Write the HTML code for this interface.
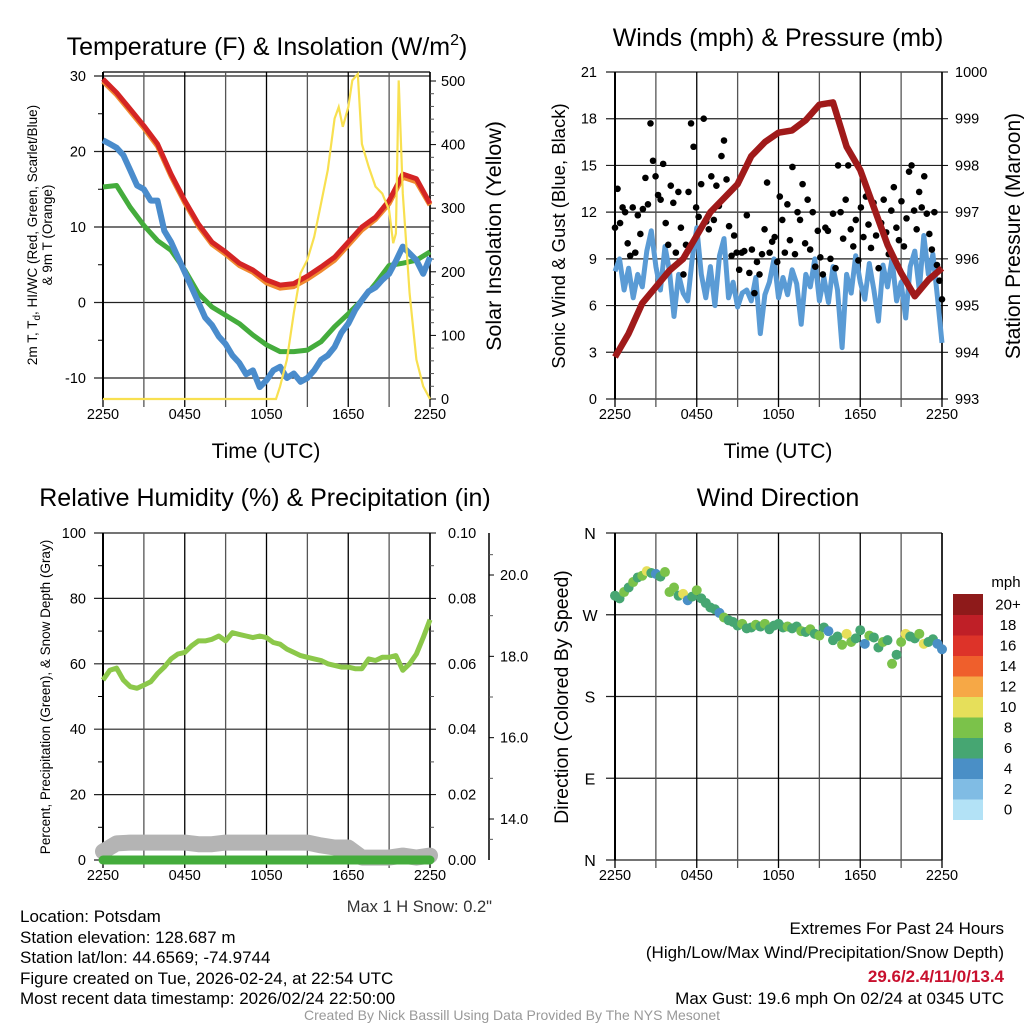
<!DOCTYPE html>
<html><head><meta charset="utf-8"><style>
body{margin:0;background:#fff;}
svg{display:block;font-family:"Liberation Sans",sans-serif;}
</style></head><body>
<svg id="fig" width="1024" height="1024" viewBox="0 0 1024 1024">
<rect width="1024" height="1024" fill="#fff"/>
<text x="267" y="55" font-size="25" text-anchor="middle">Temperature (F) &amp; Insolation (W/m<tspan dy="-10" font-size="16">2</tspan><tspan dy="10">)</tspan></text>
<text x="778" y="46" font-size="25" text-anchor="middle">Winds (mph) &amp; Pressure (mb)</text>
<text x="265" y="506" font-size="25" text-anchor="middle">Relative Humidity (%) &amp; Precipitation (in)</text>
<text x="778" y="506" font-size="25" text-anchor="middle">Wind Direction</text>
<text x="266" y="458" font-size="21" text-anchor="middle">Time (UTC)</text>
<text x="778" y="458" font-size="21" text-anchor="middle">Time (UTC)</text>
<text transform="translate(37,235) rotate(-90)" font-size="13.5" text-anchor="middle">2m T, T<tspan dy="3" font-size="10">d</tspan><tspan dy="-3">, HI/WC (Red, Green, Scarlet/Blue)</tspan></text>
<text transform="translate(52,235) rotate(-90)" font-size="13.5" text-anchor="middle">&amp; 9m T (Orange)</text>
<text transform="translate(501,236) rotate(-90)" font-size="21.5" text-anchor="middle">Solar Insolation (Yellow)</text>
<text transform="translate(565,236) rotate(-90)" font-size="18.5" text-anchor="middle">Sonic Wind &amp; Gust (Blue, Black)</text>
<text transform="translate(1020,236) rotate(-90)" font-size="21" text-anchor="middle">Station Pressure (Maroon)</text>
<text transform="translate(50,697) rotate(-90)" font-size="13.5" text-anchor="middle">Percent, Precipitation (Green), &amp; Snow Depth (Gray)</text>
<text transform="translate(568,697) rotate(-90)" font-size="19.5" text-anchor="middle">Direction (Colored By Speed)</text>
<text x="492" y="912" font-size="16.5" text-anchor="end" fill="#333">Max 1 H Snow: 0.2"</text>
<g font-size="17">
<text x="20" y="922">Location: Potsdam</text>
<text x="20" y="943">Station elevation: 128.687 m</text>
<text x="20" y="963">Station lat/lon: 44.6569; -74.9744</text>
<text x="20" y="984">Figure created on Tue, 2026-02-24, at 22:54 UTC</text>
<text x="20" y="1004">Most recent data timestamp: 2026/02/24 22:50:00</text>
</g>
<g font-size="17" text-anchor="end">
<text x="1004" y="934">Extremes For Past 24 Hours</text>
<text x="1004" y="958">(High/Low/Max Wind/Precipitation/Snow Depth)</text>
<text x="1004" y="982" fill="#c8102e" font-weight="bold">29.6/2.4/11/0/13.4</text>
<text x="1004" y="1004">Max Gust: 19.6 mph On 02/24 at 0345 UTC</text>
</g>
<text x="512" y="1020" font-size="14" text-anchor="middle" fill="#999">Created By Nick Bassill Using Data Provided By The NYS Mesonet</text>
</svg>
<script>
// ---- data ----
const timeLabels = ["2250","0450","1050","1650","2250"];
const tempRed = [29.6,27.8,25.6,23.4,21,17,13.5,10.4,8,6.7,5.2,4.3,3,2.3,2.5,3.5,4.7,6,8,10,11.3,13.5,17,16.4,13.1];
const tempOrange = [29.3,27.5,25.3,23.1,20.7,16.7,13.2,10.1,7.7,6.4,4.9,4.0,2.6,1.9,2.1,3.1,4.3,5.6,7.6,9.6,11.0,13.1,16.6,16.0,12.9];
const dewGreen = [15.3,15.5,12.6,10.2,8.2,6.9,4.3,1.2,-0.6,-1.7,-2.8,-4.3,-5.6,-6.5,-6.5,-6.3,-5.2,-3.2,-1.5,0.3,2.5,4.9,5.2,5.6,6.7];
const chillBlue = [21.5,21,20.5,19.5,17.5,15.5,15,13.5,13.5,9.5,8,6,4,2,0,-2,-3,-4.5,-5.5,-7,-8,-9.5,-9,-11.2,-10.3,-9,-8.5,-10,-9.4,-10.5,-10,-9,-7.6,-7,-5.9,-4,-2.8,-1,0.3,1.5,2,3,3.8,5.5,7.4,6.5,5.6,3.8,6];
const solarHours = [0,12.7,13,13.5,14,14.5,15,15.5,16,16.5,17,17.3,17.6,18,18.3,18.7,19,19.5,20,20.5,21,21.3,21.5,21.7,22,22.5,23,23.5,24];
const solarValues = [0,0,20,62,135,198,219,255,307,360,441,459,428,459,501,511,401,365,334,323,297,245,260,501,323,166,62,20,0];
const windBlue = [8.2,9.0,7.0,8.4,6.5,8.0,7.2,9.5,10.8,8.5,7.0,9.8,8.2,5.3,8.0,6.8,6.3,9.0,11.0,8.0,6.5,8.5,6.0,9.2,10.3,6.5,7.5,5.9,6.8,7.0,6.3,7.8,4.2,6.7,7.5,9.0,6.5,7.8,6.7,8.3,7.4,4.8,8.0,7.2,9.0,6.3,7.8,6.2,8.5,7.0,3.3,8.0,6.8,9.2,7.5,6.4,8.7,7.0,5.0,8.6,7.2,9.0,6.3,7.5,5.2,8.5,9.5,7.0,10.5,8.0,9.3,6.5,3.6];
const gustBlack = [11,13.5,11.3,12.3,12,10,9.2,12.3,9.4,11.8,10.6,12.2,14.2,12.5,17.7,15.3,14.3,13.1,12.8,15.1,11.3,9.9,13.7,12.6,9.4,13.3,11,8,9.9,13.3,17.7,16.2,12.3,11.7,13.8,18,11.4,10.9,14.3,11.5,13.7,12.4,15.6,16.6,14.1,11.1,9.2,10.5,9.4,8.3,9.4,9.5,11.8,8.1,9.6,6.8,8.8,8,9.3,10.9,13.9,9.4,10.1,10.4,8.8,13.0,11.5,9.4,12.5,10.2,14.9,9.3,12.0,11.5,13.8,10.0,12.8,9.6,12.0,8.5,10.8,9.1,8.0,11.0,10.8,9.0,11.9,8.4,15,12.0,10.3,12.8,15,10.9,9.8,11.5,8.9,12.3,10.4,13.0,11.2,9.7,12.6,10.5,8.4,11.3,12.8,10.7,9.3,12.1,13.6,11.0,10.2,12.7,9.8,11.6,14.6,15.0,12.1,10.9,13.3,12.3,14.3,11.9,10.6,9.6,12.0,8.6,7.6,6.4];
const pressure = [993.9,994.4,995.05,995.4,995.75,996.0,996.5,997.0,997.3,997.6,998.2,998.5,998.7,998.75,998.97,999.3,999.35,998.4,997.9,997.1,996.3,995.7,995.2,995.55,995.8];
const rhValues = [55,58,58.7,55,53,52.5,53.5,54.5,57,59,61.5,63,63.5,65.5,67,67,67.5,68.5,67,69.5,69,68.5,68,68.5,68,66.5,66,64.5,63.5,62.5,62,61.5,61,60,59.5,59,59,58.5,58.5,61.5,61,62,62,62.5,58,60,63,68,73.5];
const snowDepth = [13.2,13.4,13.42,13.42,13.42,13.42,13.42,13.38,13.38,13.42,13.42,13.42,13.42,13.42,13.42,13.42,13.35,13.3,13.3,13.05,13.05,13.05,13.1,13.05,13.1];
const precipValues = [0,0,0,0,0,0,0,0,0,0,0,0,0,0,0,0,0,0,0,0,0,0,0,0,0];
const dirValues = [291,288,295,300,306,311,313,318,316,315,312,317,295,300,291,293,286,290,297,288,283,278,276,272,267,264,262,258,260,255,256,259,257,260,254,258,260,256,257,255,257,252,251,254,249,247,256,252,242,246,237,249,240,244,253,238,247,245,234,240,242,216,226,240,249,246,244,249,238,240,243,238,232];
const dirSpeeds = [7,6,8,7,8,6,8,10,7,4,7,8,9,8,6,10,4,7,8,6,7,6,7,4,8,6,7,7,8,6,7,8,6,8,6,7,6,7,8,7,6,8,7,8,6,8,6,4,7,6,8,10,8,7,6,4,8,7,6,8,7,8,6,9,10,7,6,8,10,7,6,4,4];
const speedLabels = ["0","2","4","6","8","10","12","14","16","18","20+"];
const speedColors = ["#b3e2f6","#80bce4","#4a8fc6","#46a672","#7bc24a","#e6df5a","#f6a846","#ef5f2c","#dd3329","#bf1f27","#8e1a1a"];

// ---- helpers ----
const NS = "http://www.w3.org/2000/svg";
const svg = document.getElementById("fig");
function mk(parent, tag, attrs, name) {
  const el = document.createElementNS(NS, tag);
  for (const k in attrs) el.setAttribute(k, attrs[k]);
  
  
  parent.appendChild(el);
  return el;
}
function txt(parent, x, y, s, anchor, size, name) {
  const t = mk(parent, "text", {x:x, y:y, "text-anchor":anchor, "font-size":size}, name);
  t.textContent = s;
  return t;
}
function scale(d0, d1, r0, r1) { return v => r0 + (v - d0) / (d1 - d0) * (r1 - r0); }
function pathFrom(xs, ys) { return xs.map((x,i)=> (i?"L":"M") + x.toFixed(1) + "," + ys[i].toFixed(1)).join(""); }
function evenHours(n) { const a=[]; for (let i=0;i<n;i++) a.push(i*24/(n-1)); return a; }

function frame(g, L, R, T, B, name) {
  for (let i = 0; i <= 8; i++) {
    const x = L + i*(R-L)/8;
    mk(g, "line", {x1:x, x2:x, y1:T, y2:B+8, stroke:(i%2?"#555":"#000"), "stroke-width":1.3}, name + "-vgrid");
  }
  timeLabels.forEach((s,i)=> txt(g, L + i*(R-L)/4, B+20, s, "middle", 14.5, name + "-x-tick-label"));
  mk(g, "line", {x1:L, x2:L, y1:T, y2:B, stroke:"#000", "stroke-width":2}, name + "-left-axis");
  mk(g, "line", {x1:R, x2:R, y1:T, y2:B, stroke:"#000", "stroke-width":1.5}, name + "-right-axis");
}
function hgrid(g, L, R, y, name) {
  mk(g, "line", {x1:L-9, x2:R, y1:y, y2:y, stroke:"#222", "stroke-width":1.2}, name);
}

// ---- Panel 1: temperature ----
(function(){
  const g = mk(svg, "g", {}, "temperature-chart");
  const L=103, R=430, T=72, B=399;
  const x = scale(0,24,L,R), y = scale(-10,30,378,76), ys = scale(0,500,399,81);
  [-10,0,10,20,30].forEach(v=>{ hgrid(g,L,R,y(v),"temp-gridline"); txt(g, 86, y(v)+5, String(v), "end", 14.5, "temp-y-tick-label"); });
  [-5,5,15,25].forEach(v=> mk(g,"line",{x1:L-5,x2:L,y1:y(v),y2:y(v),stroke:"#000"},"temp-minor-tick"));
  mk(g,"line",{x1:L,x2:R,y1:T,y2:T,stroke:"#000","stroke-width":1.2},"temp-top-border");
  frame(g,L,R,T,B,"temp");
  [0,100,200,300,400,500].forEach(v=>{ mk(g,"line",{x1:R,x2:R+6,y1:ys(v),y2:ys(v),stroke:"#000"},"solar-tick"); txt(g, R+11, ys(v)+5, String(v), "start", 14.5, "solar-y-tick-label"); });
  for (let v=20; v<=500; v+=20) if (v%100) mk(g,"line",{x1:R,x2:R+4,y1:ys(v),y2:ys(v),stroke:"#555"},"solar-minor-tick");
  const hx = evenHours(tempRed.length).map(x);
  mk(g,"path",{d:pathFrom(evenHours(tempOrange.length).map(x), tempOrange.map(y)), fill:"none", stroke:"#f08a30","stroke-width":5,"stroke-linejoin":"round"},"orange-9m-temp-line");
  mk(g,"path",{d:pathFrom(hx, tempRed.map(y)), fill:"none", stroke:"#d42424","stroke-width":5,"stroke-linejoin":"round"},"red-temp-line");
  mk(g,"path",{d:pathFrom(evenHours(dewGreen.length).map(x), dewGreen.map(y)), fill:"none", stroke:"#44ac3c","stroke-width":5,"stroke-linejoin":"round"},"green-dewpoint-line");
  mk(g,"path",{d:pathFrom(evenHours(chillBlue.length).map(x), chillBlue.map(y)), fill:"none", stroke:"#4a8ccc","stroke-width":6,"stroke-linejoin":"round"},"blue-windchill-line");
  mk(g,"path",{d:pathFrom(solarHours.map(x), solarValues.map(ys)), fill:"none", stroke:"#f8e050","stroke-width":2.2},"yellow-solar-line");
})();

// ---- Panel 2: wind & pressure ----
(function(){
  const g = mk(svg, "g", {}, "wind-chart");
  const L=615, R=942, T=72, B=399;
  const x = scale(0,24,L,R), y = scale(0,21,399,72), yp = scale(993,1000,399,72);
  [0,3,6,9,12,15,18,21].forEach(v=>{ hgrid(g,L,R,y(v),"wind-gridline"); txt(g, 597, y(v)+5, String(v), "end", 14.5, "wind-y-tick-label"); });
  frame(g,L,R,T,B,"wind");
  for (let v=993; v<=1000; v++){ mk(g,"line",{x1:R,x2:R+6,y1:yp(v),y2:yp(v),stroke:"#000"},"pressure-tick"); txt(g, R+13, yp(v)+5, String(v), "start", 14.5, "pressure-y-tick-label"); }
  mk(g,"path",{d:pathFrom(evenHours(windBlue.length).map(x), windBlue.map(y)), fill:"none", stroke:"#5a9bd5","stroke-width":5,"stroke-linejoin":"round"},"blue-sonic-wind-line");
  const gh = evenHours(gustBlack.length);
  gustBlack.forEach((v,i)=> mk(g,"circle",{cx:x(gh[i]), cy:y(v), r:3.3, fill:"#000"},"gust-point"));
  mk(g,"path",{d:pathFrom(evenHours(pressure.length).map(x), pressure.map(yp)), fill:"none", stroke:"#a01a1a","stroke-width":6.5,"stroke-linejoin":"round"},"maroon-pressure-line");
})();

// ---- Panel 3: RH / precip / snow ----
(function(){
  const g = mk(svg, "g", {}, "humidity-chart");
  const L=103, R=430, T=533, B=860;
  const x = scale(0,24,L,R), y = scale(0,100,860,533), ysn = scale(14,20,819,575), ypr = scale(0,0.1,860,533);
  [0,20,40,60,80,100].forEach(v=>{ hgrid(g,L,R,y(v),"rh-gridline"); txt(g, 86, y(v)+5, String(v), "end", 14.5, "rh-y-tick-label"); });
  [10,30,50,70,90].forEach(v=> mk(g,"line",{x1:L-5,x2:L,y1:y(v),y2:y(v),stroke:"#000"},"rh-minor-tick"));
  frame(g,L,R,T,B,"rh");
  [0,0.02,0.04,0.06,0.08,0.1].forEach(v=>{ mk(g,"line",{x1:R,x2:R+6,y1:ypr(v),y2:ypr(v),stroke:"#000"},"precip-tick"); txt(g, R+18, ypr(v)+5, v.toFixed(2), "start", 14.5, "precip-y-tick-label"); });
  for (let v=0.01; v<0.1; v+=0.02) mk(g,"line",{x1:R,x2:R+4,y1:ypr(v),y2:ypr(v),stroke:"#555"},"precip-minor-tick");
  mk(g,"line",{x1:489,x2:489,y1:533,y2:860,stroke:"#000","stroke-width":1.5},"snow-axis");
  [14,16,18,20].forEach(v=>{ mk(g,"line",{x1:489,x2:494,y1:ysn(v),y2:ysn(v),stroke:"#000"},"snow-tick"); txt(g, 500, ysn(v)+5, v.toFixed(1), "start", 14.5, "snow-y-tick-label"); });
  [13.5,15,17,19,20.5].forEach(v=> mk(g,"line",{x1:489,x2:493,y1:ysn(v),y2:ysn(v),stroke:"#555"},"snow-minor-tick"));
  mk(g,"path",{d:pathFrom(evenHours(snowDepth.length).map(x), snowDepth.map(ysn)), fill:"none", stroke:"#b4b4b4","stroke-width":16,"stroke-linejoin":"round","stroke-linecap":"round"},"gray-snow-depth-line");
  mk(g,"path",{d:pathFrom(evenHours(precipValues.length).map(x), precipValues.map(ypr)), fill:"none", stroke:"#44ac3c","stroke-width":9,"stroke-linecap":"round"},"green-precip-line");
  mk(g,"path",{d:pathFrom(evenHours(rhValues.length).map(x), rhValues.map(y)), fill:"none", stroke:"#8cc84a","stroke-width":5,"stroke-linejoin":"round"},"rh-line");
})();

// ---- Panel 4: wind direction ----
(function(){
  const g = mk(svg, "g", {}, "direction-chart");
  const L=615, R=942, T=533, B=860;
  const x = scale(0,24,L,R), y = scale(0,360,860,533);
  const dirLabels = ["N","E","S","W","N"];
  [0,90,180,270,360].forEach((v,i)=>{ hgrid(g,L,R,y(v),"direction-gridline"); txt(g, 590, y(v)+6, dirLabels[i], "middle", 16, "direction-y-tick-label"); });
  frame(g,L,R,T,B,"direction");
  const dh = evenHours(dirValues.length);
  dirValues.forEach((v,i)=>{
    const c = speedColors[Math.min(10, Math.floor(dirSpeeds[i]/2))];
    mk(g,"circle",{cx:x(dh[i]), cy:y(v), r:5, fill:c},"direction-point");
  });
  txt(g, 1006, 587, "mph", "middle", 15, "colorbar-title");
  const top=594, h=20.5;
  for (let i=0;i<speedColors.length;i++){
    const yy = top + (speedColors.length-1-i)*h;
    mk(g,"rect",{x:953,y:yy,width:30,height:h+0.5,fill:speedColors[i]},"colorbar-bin");
    txt(g, 1008, yy+h/2+5, speedLabels[i], "middle", 15, "colorbar-label");
  }
})();
</script>
</body></html>
